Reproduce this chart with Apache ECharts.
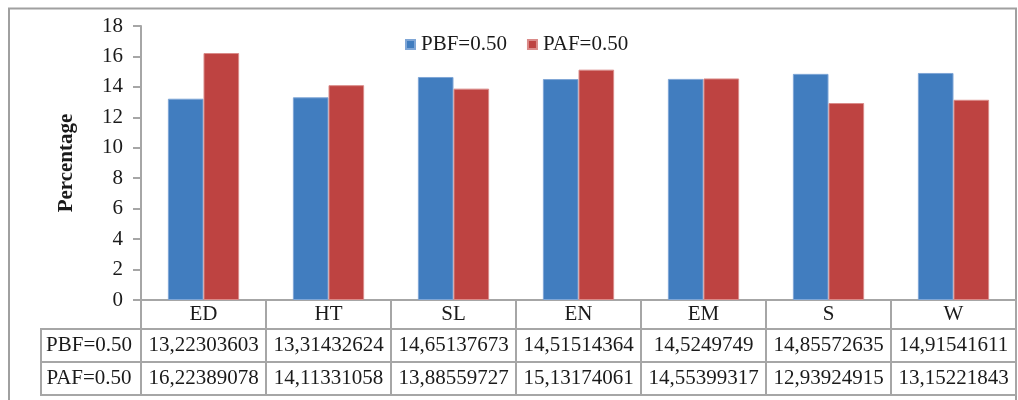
<!DOCTYPE html>
<html>
<head>
<meta charset="utf-8">
<script src="https://cdn.jsdelivr.net/npm/echarts@6/dist/echarts.min.js"></script>
<style>
html,body{margin:0;padding:0;background:#fff;}
#c{width:1018px;height:400px;}
</style>
</head>
<body>
<div id="c"></div>
<script>
var categories = ['ED', 'HT', 'SL', 'EN', 'EM', 'S', 'W'];
var seriesNames = ['PBF=0.50', 'PAF=0.50'];
var pbfValues = [13.22303603, 13.31432624, 14.65137673, 14.51514364, 14.5249749, 14.85572635, 14.91541611];
var pafValues = [16.22389078, 14.11331058, 13.88559727, 15.13174061, 14.55399317, 12.93924915, 13.15221843];
var yTicks = { min: 0, max: 18, interval: 2 };

var FONT = 'Liberation Serif';
var TXT = '#1a1a1a';
var LINE = '#a6a6a6';
function fmt(v) { return String(v).replace('.', ','); }

var chart = echarts.init(document.getElementById('c'), null, { renderer: 'canvas' });

function tableAxis(offset, tickLen, values, showLabel, showTick) {
  return {
    type: 'category',
    data: categories,
    position: 'bottom',
    offset: offset,
    boundaryGap: true,
    axisLine: { show: true, lineStyle: { color: LINE, width: 2 } },
    axisTick: { show: showTick, interval: 0, length: tickLen, alignWithLabel: false, lineStyle: { color: LINE, width: 2 } },
    axisLabel: {
      show: showLabel,
      interval: 0,
      margin: tickLen / 2,
      verticalAlign: 'middle',
      fontFamily: FONT, fontSize: 21, color: TXT,
      formatter: function (val, idx) { return values ? fmt(values[idx]) : val; }
    },
    splitLine: { show: false }
  };
}

var option = {
  animation: false,
  backgroundColor: '#ffffff',
  grid: { left: 141, right: 2, top: 26, bottom: 100, containLabel: false },
  legend: {
    data: seriesNames,
    left: 405, top: 34, padding: 0,
    itemWidth: 9, itemHeight: 9, itemGap: 20,
    icon: 'rect',
    textStyle: { fontFamily: FONT, fontSize: 21, color: TXT, padding: [0, 0, 0, 1] }
  },
  xAxis: [
    tableAxis(0, 29, null, true, true),
    tableAxis(29, 33, pbfValues, true, true),
    tableAxis(62, 33, pafValues, true, true),
    tableAxis(95, 0, null, false, false)
  ],
  yAxis: {
    type: 'value',
    min: yTicks.min, max: yTicks.max, interval: yTicks.interval,
    name: 'Percentage',
    nameLocation: 'middle',
    nameGap: 64,
    nameTextStyle: { fontFamily: FONT, fontSize: 21, fontWeight: 'bold', color: TXT },
    axisLine: { show: true, lineStyle: { color: LINE, width: 2 } },
    axisTick: { show: true, length: 8, lineStyle: { color: LINE, width: 2 } },
    axisLabel: { margin: 18, fontFamily: FONT, fontSize: 21, color: TXT },
    splitLine: { show: false }
  },
  series: [
    {
      name: seriesNames[0], type: 'bar', xAxisIndex: 0, data: pbfValues,
      barGap: '0%', barCategoryGap: '43%',
      itemStyle: { color: '#417DBF', borderColor: '#7FA6D6', borderWidth: 1 }
    },
    {
      name: seriesNames[1], type: 'bar', xAxisIndex: 0, data: pafValues,
      barGap: '0%', barCategoryGap: '43%',
      itemStyle: { color: '#BE4341', borderColor: '#DA8B89', borderWidth: 1 }
    }
  ],
  graphic: [
    { type: 'rect', shape: { x: 9, y: 8.5, width: 1007, height: 420 }, style: { fill: 'none', stroke: '#a0a0a0', lineWidth: 2 }, silent: true, z: 0 },
    { type: 'rect', shape: { x: 41, y: 329, width: 100, height: 66 }, style: { fill: 'none', stroke: LINE, lineWidth: 2 }, silent: true },
    { type: 'line', shape: { x1: 41, y1: 362, x2: 141, y2: 362 }, style: { stroke: LINE, lineWidth: 2 }, silent: true },
    { type: 'text', x: 89, y: 345.5, style: { text: seriesNames[0], font: '21px "Liberation Serif"', fill: TXT, align: 'center', verticalAlign: 'middle' }, silent: true },
    { type: 'text', x: 89, y: 378.5, style: { text: seriesNames[1], font: '21px "Liberation Serif"', fill: TXT, align: 'center', verticalAlign: 'middle' }, silent: true }
  ]
};
chart.setOption(option);
</script>
</body>
</html>
